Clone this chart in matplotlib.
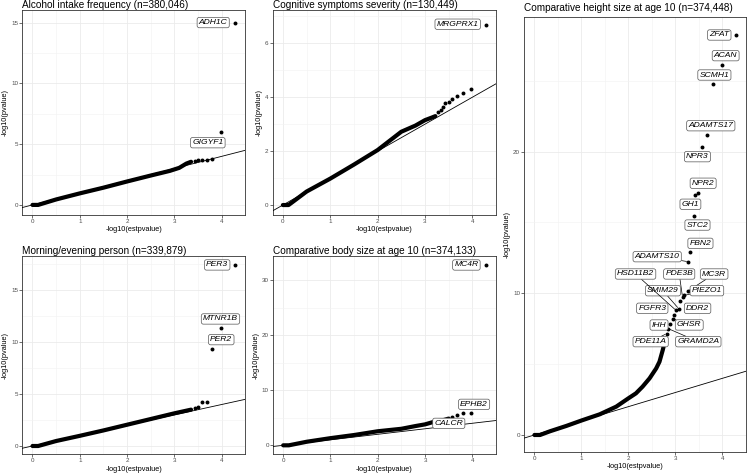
import matplotlib
matplotlib.use("Agg")
import matplotlib.pyplot as plt
from matplotlib.ticker import MultipleLocator

plt.rcParams['font.family'] = ['Liberation Sans', 'DejaVu Sans']

# ---- values ----
# Alcohol intake frequency
alc_band_x = [0, 0.12, 0.5, 1.0, 1.5, 2.0, 2.5, 2.9, 3.1, 3.25, 3.35]
alc_band_y = [0, 0, 0.45, 0.95, 1.42, 1.93, 2.42, 2.8, 3.05, 3.4, 3.55]
alc_dots_x = [3.43, 3.50, 3.58, 3.68, 3.80]
alc_dots_y = [3.62, 3.66, 3.70, 3.72, 3.75]
alc_genes = ['ADH1C', 'GIGYF1']
alc_gene_x = [4.28, 3.98]
alc_gene_y = [14.95, 6.0]

# Cognitive symptoms severity
cog_band_x = [0, 0.12, 0.5, 1.0, 1.5, 2.0, 2.5, 2.8, 3.0, 3.15, 3.22]
cog_band_y = [0, 0, 0.5, 0.98, 1.5, 2.04, 2.72, 2.95, 3.15, 3.25, 3.3]
cog_dots_x = [3.28, 3.33, 3.38, 3.43, 3.50, 3.58, 3.68, 3.80, 3.98]
cog_dots_y = [3.45, 3.52, 3.62, 3.80, 3.83, 3.92, 4.05, 4.15, 4.32]
cog_genes = ['MRGPRX1']
cog_gene_x = [4.28]
cog_gene_y = [6.7]

# Morning/evening person
mor_band_x = [0, 0.12, 0.5, 1.0, 1.5, 2.0, 2.5, 3.0, 3.2, 3.35]
mor_band_y = [0, 0, 0.48, 0.98, 1.5, 2.05, 2.6, 3.15, 3.35, 3.5]
mor_dots_x = [3.43, 3.50, 3.58, 3.68]
mor_dots_y = [3.70, 3.79, 4.24, 4.27]
mor_genes = ['PER3', 'MTNR1B', 'PER2']
mor_gene_x = [4.28, 3.98, 3.80]
mor_gene_y = [17.44, 11.37, 9.34]

# Comparative body size at age 10
bod_band_x = [0, 0.12, 0.5, 1.0, 1.5, 2.0, 2.5, 2.8, 3.0, 3.2, 3.4, 3.5]
bod_band_y = [0, 0, 0.65, 1.3, 1.87, 2.55, 3.0, 3.5, 3.8, 4.3, 4.6, 4.85]
bod_dots_x = [3.68, 3.80]
bod_dots_y = [5.44, 5.8]
bod_genes = ['MC4R', 'EPHB2', 'CALCR']
bod_gene_x = [4.28, 3.98, 3.58]
bod_gene_y = [32.72, 5.8, 5.2]

# Comparative height size at age 10
hgt_band_x = [0, 0.12, 0.33, 0.68, 1.0, 1.39, 1.74, 2.0, 2.16, 2.3, 2.45, 2.59, 2.66, 2.73, 2.78]
hgt_band_y = [0, 0, 0.26, 0.64, 1.02, 1.46, 2.0, 2.59, 2.94, 3.41, 4.0, 4.7, 5.17, 6.0, 6.7]
hgt_dots_x = []
hgt_dots_y = []
hgt_genes = ['ZFAT', 'ACAN', 'SCMH1', 'ADAMTS17', 'NPR3', 'NPR2', 'GH1', 'STC2',
             'FBN2', 'ADAMTS10', 'MC3R', 'PIEZO1', 'PDE3B', 'DDR2', 'SMIM29',
             'HSD11B2', 'FGFR3', 'GHSR', 'IHH', 'GRAMD2A', 'PDE11A']
hgt_gene_x = [4.28, 3.98, 3.80, 3.66, 3.56, 3.48, 3.42, 3.40,
              3.31, 3.27, 3.26, 3.19, 3.15, 3.10, 3.07,
              3.01, 2.97, 2.94, 2.88, 2.85, 2.81]
hgt_gene_y = [28.25, 26.1, 24.77, 21.17, 20.32, 17.06, 16.94, 15.48,
              12.89, 12.23, 10.14, 9.86, 9.74, 9.44, 8.91,
              8.80, 8.45, 8.21, 7.86, 7.50, 7.15]

# ---- label placement (pixel offsets from the point, like ggrepel put them) ----
label_offset = {
    'ADH1C': (-21.9, 0.7), 'GIGYF1': (-13.1, -10.7),
    'MRGPRX1': (-27.9, 0.3),
    'PER3': (-17.9, 0), 'MTNR1B': (-0.4, 9), 'PER2': (8.9, 9.4),
    'MC4R': (-19.2, 0), 'EPHB2': (2.7, 9), 'CALCR': (-3.7, -6.7),
    'ZFAT': (-16.4, -0.3), 'ACAN': (4.1, 9.5), 'SCMH1': (1.3, 9),
    'ADAMTS17': (4.3, 9.3), 'NPR3': (-4.4, -9.6), 'NPR2': (5.1, 10),
    'GH1': (-4.8, -9.3), 'STC2': (3.2, -9.4), 'FBN2': (10.4, 9),
    'ADAMTS10': (-31, 5), 'MC3R': (26.5, 17.3), 'PIEZO1': (22.5, 4.6),
    'PDE3B': (-3.3, 23), 'DDR2': (17.4, -7.1), 'SMIM29': (-15.8, 18),
    'HSD11B2': (-40.4, 36.3), 'FGFR3': (-21.8, 7), 'GHSR': (16.6, -6.3),
    'IHH': (-10.8, -1.4), 'GRAMD2A': (29.9, -13), 'PDE11A': (-15.9, -8),
}
with_segment = {'ADAMTS10', 'MC3R', 'PDE3B', 'HSD11B2', 'SMIM29', 'GHSR',
                'GRAMD2A', 'PDE11A', 'PIEZO1'}

W, H = 747, 476


def rect(l, t, r, b):
    return [l / W, 1 - b / H, (r - l) / W, (b - t) / H]


panels = [
    dict(title='Alcohol intake frequency (n=380,046)', box=rect(22.3, 10.5, 245.5, 215),
         ylim=(-0.83, 16.0), ystep=5, pad=1.5,
         band=(alc_band_x, alc_band_y), dots=(alc_dots_x, alc_dots_y),
         genes=(alc_genes, alc_gene_x, alc_gene_y)),
    dict(title='Cognitive symptoms severity (n=130,449)', box=rect(272.7, 10.5, 496, 215),
         ylim=(-0.37, 7.22), ystep=2, pad=1.5,
         band=(cog_band_x, cog_band_y), dots=(cog_dots_x, cog_dots_y),
         genes=(cog_genes, cog_gene_x, cog_gene_y)),
    dict(title='Morning/evening person (n=339,879)', box=rect(22.3, 256, 245.5, 454.3),
         ylim=(-0.8, 18.3), ystep=5, pad=1.8,
         band=(mor_band_x, mor_band_y), dots=(mor_dots_x, mor_dots_y),
         genes=(mor_genes, mor_gene_x, mor_gene_y)),
    dict(title='Comparative body size at age 10 (n=374,133)', box=rect(273, 256, 496, 454.3),
         ylim=(-1.63, 34.35), ystep=10, pad=1.8,
         band=(bod_band_x, bod_band_y), dots=(bod_dots_x, bod_dots_y),
         genes=(bod_genes, bod_gene_x, bod_gene_y)),
    dict(title='Comparative height size at age 10 (n=374,448)', box=rect(524.3, 16.7, 746, 451.7),
         ylim=(-1.18, 29.52), ystep=10, pad=4.3,
         band=(hgt_band_x, hgt_band_y), dots=(hgt_dots_x, hgt_dots_y),
         genes=(hgt_genes, hgt_gene_x, hgt_gene_y)),
]

fig = plt.figure(figsize=(7.47, 4.76), dpi=100)

for p in panels:
    ax = fig.add_axes(p['box'])
    ax.set_xlim(-0.215, 4.5)
    ax.set_ylim(*p['ylim'])

    # theme_bw look
    ax.xaxis.set_major_locator(MultipleLocator(1))
    ax.xaxis.set_minor_locator(MultipleLocator(0.5))
    ax.yaxis.set_major_locator(MultipleLocator(p['ystep']))
    ax.yaxis.set_minor_locator(MultipleLocator(p['ystep'] / 2))
    ax.grid(which='major', color='#EBEBEB', lw=0.6)
    ax.grid(which='minor', color='#F2F2F2', lw=0.4)
    ax.set_axisbelow(True)
    for s in ax.spines.values():
        s.set_color('#333333')
        s.set_linewidth(0.6)
    ax.tick_params(which='major', length=2, width=0.5, color='#333333',
                   labelsize=4.5, labelcolor='#4D4D4D', pad=1)
    ax.tick_params(which='minor', length=0)

    bx, by = p['band']
    ax.plot(bx, by, color='black', lw=3.0, solid_capstyle='round',
            solid_joinstyle='round', zorder=3)
    dx, dy = p['dots']
    genes, gx, gy = p['genes']
    ax.scatter(dx + gx, dy + gy, s=8, color='black', lw=0, zorder=3)
    ax.axline((0, 0), slope=1, color='black', lw=0.6, zorder=4)

    for g, x, y in zip(genes, gx, gy):
        ox, oy = label_offset[g]
        arrow = None
        if g in with_segment:
            arrow = dict(arrowstyle='-', color='black', lw=0.5, shrinkA=0, shrinkB=1.2)
        ax.annotate(g, xy=(x, y), xytext=(ox, oy), textcoords='offset pixels',
                    ha='center', va='center', fontsize=6.1, fontstyle='italic',
                    color='black', zorder=5,
                    bbox=dict(boxstyle='round,pad=0.2,rounding_size=0.25',
                              fc='white', ec='#555555', lw=0.5),
                    arrowprops=arrow)

    ax.set_title(p['title'], loc='left', fontsize=7.2, pad=p['pad'])
    ax.set_xlabel('-log10(estpvalue)', fontsize=5.3, labelpad=1.5)
    ax.set_ylabel('-log10(pvalue)', fontsize=5.3, labelpad=1.5)

fig.savefig('out.png', dpi=100)
